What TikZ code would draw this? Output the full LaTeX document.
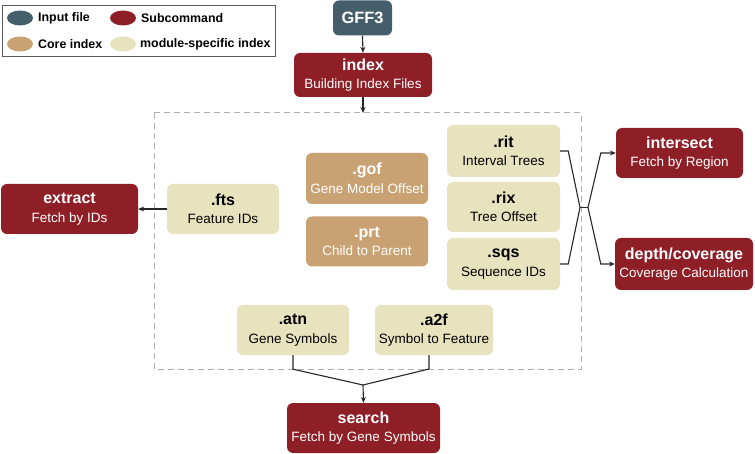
\documentclass[tikz,border=0pt]{standalone}
\usepackage{fontspec}
\setmainfont{Liberation Sans}
\usetikzlibrary{arrows.meta,calc,shapes.geometric}
\definecolor{cred}{HTML}{8E1F27}
\definecolor{ctan}{HTML}{C9A273}
\definecolor{cbeige}{HTML}{E8E3BF}
\definecolor{cslate}{HTML}{455E6B}
\definecolor{cdash}{HTML}{B0B0B0}
\newcommand{\twol}[2]{{\fontsize{16}{18.5}\selectfont\bfseries #1}\\{#2}}
\tikzset{
  box/.style={rounded corners=6pt, inner sep=0pt, align=center, anchor=center, font=\fontsize{13.5}{18.5}\selectfont},
  subbox/.style={box, fill=cred, text=white},
  corebox/.style={box, fill=ctan, text=white},
  modbox/.style={box, fill=cbeige, text=black},
  inbox/.style={box, fill=cslate, text=white},
  conn/.style={draw=black!85, line width=1.1pt},
  arr/.style={conn, -{Stealth[length=6pt,width=5pt]}},
  legdot/.style={ellipse, minimum width=26pt, minimum height=15pt, inner sep=0pt},
  legtxt/.style={anchor=west, inner sep=0pt, font=\fontsize{12.4}{14}\selectfont\bfseries},
}
\begin{document}
\begin{tikzpicture}[x=1pt,y=-1pt]
\useasboundingbox (0,0) rectangle (755,454);
% legend
\draw[draw=black!65, line width=0.9pt] (2,5) rectangle (275,56);
\node[legdot, fill=cslate] (l1) at (20,18) {};
\node[legtxt] (l1t) at (38,18) {Input file};
\node[legdot, fill=cred] (l2) at (123,18) {};
\node[legtxt] (l2t) at (141,18) {Subcommand};
\node[legdot, fill=ctan] (l3) at (20,44) {};
\node[legtxt] (l3t) at (38,44) {Core index};
\node[legdot, fill=cbeige] (l4) at (123,44) {};
\node[legtxt] (l4t) at (140,44) {module-specific index};
% dashed box
\draw[cdash, line width=1pt, dash pattern=on 6pt off 4pt] (154,113) rectangle (581,369);
% nodes
\node[inbox, minimum width=59pt, minimum height=35pt, font=\fontsize{16.4}{18}\selectfont\bfseries] (gff) at (362.5,18) {GFF3};
\node[subbox, minimum width=138pt, minimum height=44pt] (index) at (363,75) {\twol{index}{Building Index Files}};
\node[subbox, minimum width=137pt, minimum height=50pt] (extract) at (69.5,209) {\twol{extract}{Fetch by IDs}};
\node[modbox, minimum width=112pt, minimum height=50pt] (fts) at (223,209) {\twol{.fts}{Feature IDs}};
\node[corebox, minimum width=122pt, minimum height=51pt] (gof) at (367,178.5) {\twol{.gof}{Gene Model Offset}};
\node[corebox, minimum width=122pt, minimum height=50pt] (prt) at (367,241.5) {\twol{.prt}{Child to Parent}};
\node[modbox, minimum width=113pt, minimum height=52pt] (rit) at (503.5,151) {\twol{.rit}{Interval Trees}};
\node[modbox, minimum width=113pt, minimum height=50pt] (rix) at (503.5,207) {\twol{.rix}{Tree Offset}};
\node[modbox, minimum width=113pt, minimum height=52pt] (sqs) at (503.5,264) {\twol{.sqs}{Sequence IDs}};
\node[subbox, minimum width=127pt, minimum height=50pt] (inter) at (679.5,153) {\twol{intersect}{Fetch by Region}};
\node[subbox, minimum width=138pt, minimum height=52pt] (depth) at (684,264) {\twol{depth/coverage}{Coverage Calculation}};
\node[modbox, minimum width=112pt, minimum height=50pt] (atn) at (293,330) {\twol{.atn}{Gene Symbols}};
\node[modbox, minimum width=118pt, minimum height=50pt] (a2f) at (434,330) {\twol{.a2f}{Symbol to Feature}};
\node[subbox, minimum width=153pt, minimum height=50pt] (search) at (363.5,428) {\twol{search}{Fetch by Gene Symbols}};
% coordinates
\coordinate (boxtop) at (363,113);
\coordinate (j1) at (580,207.5);
\coordinate (j2) at (588,207.5);
\coordinate (m) at (363,385);
% connectors
\draw[arr] (gff.south) -- (index.north);
\draw[arr] (index.south) -- (boxtop);
\draw[arr] (fts.west) -- (extract.east);
\draw[conn] (rit.east) -- ([xshift=8pt]rit.east) -- (j1);
\draw[conn] (sqs.east) -- ([xshift=8pt]sqs.east) -- (j1);
\draw[conn] (j1) -- (j2);
\draw[arr] (j2) -- ([xshift=-15pt]inter.west) -- (inter.west);
\draw[arr] (j2) -- ([xshift=-14pt]depth.west) -- (depth.west);
\draw[conn] (atn.south) -- ++(0,14) -- (m);
\draw[conn] (a2f.south -| 429,0) -- (429,369) -- (m);
\draw[arr] (m) -- (search.north);
\end{tikzpicture}
\end{document}
